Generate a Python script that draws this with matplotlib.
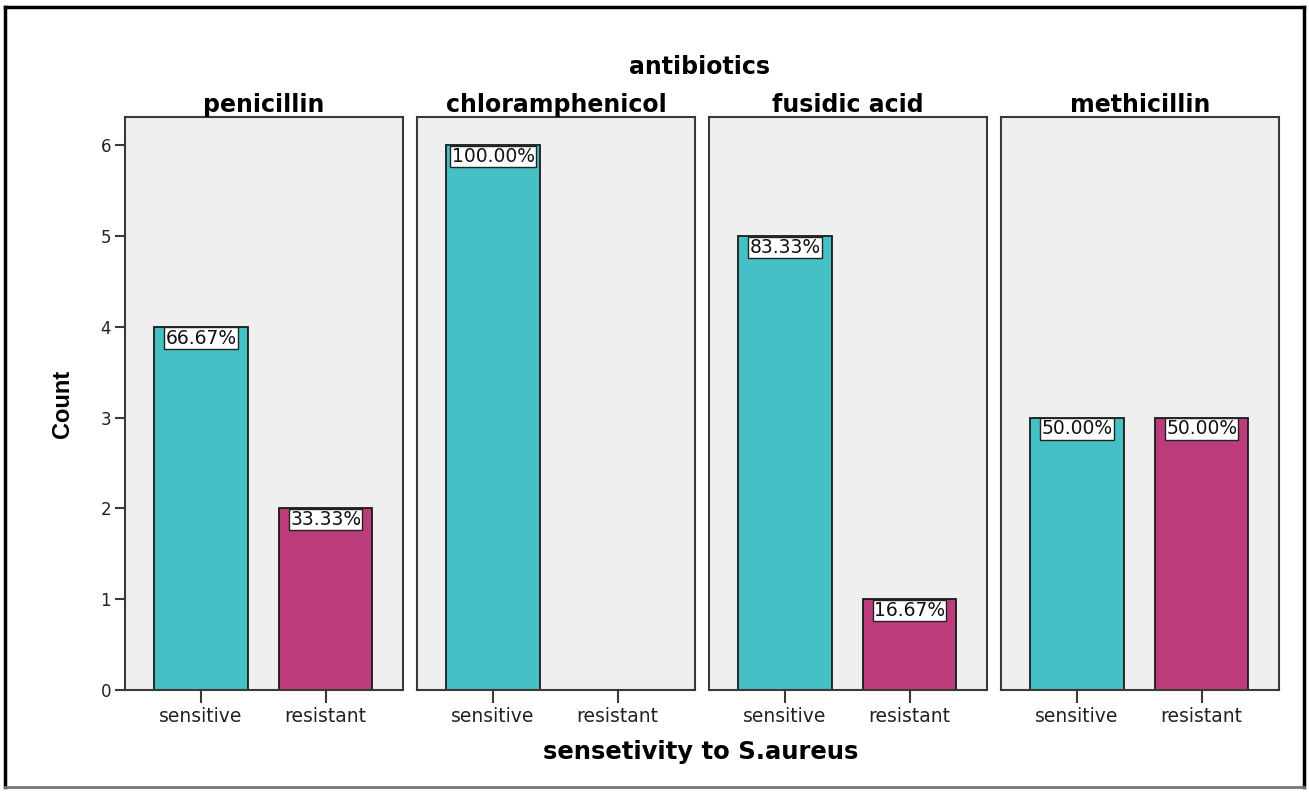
import matplotlib
matplotlib.use("Agg")
import matplotlib.pyplot as plt
from matplotlib.lines import Line2D

antibiotics = ["penicillin", "chloramphenicol", "fusidic acid", "methicillin"]
categories = ["sensitive", "resistant"]
sensitive_counts = [4, 6, 5, 3]
resistant_counts = [2, 0, 1, 3]
y_ticks = [0, 1, 2, 3, 4, 5, 6]

teal = "#45C0C4"
magenta = "#BC3C7B"
panel_bg = "#EFEFEF"
frame_col = "#3A3A3A"

plt.rcParams["font.family"] = ["DejaVu Sans"]

W, H = 1309, 792
fig = plt.figure(figsize=(W / 100, H / 100), dpi=100)

left0, step, width = 125, 292, 278
top_px, bottom_px = 117, 690

axes = []
for i, name in enumerate(antibiotics):
    x0 = left0 + i * step
    ax = fig.add_axes([x0 / W, 1 - bottom_px / H, width / W, (bottom_px - top_px) / H])
    ax.set_facecolor(panel_bg)
    counts = [sensitive_counts[i], resistant_counts[i]]
    total = sum(counts)
    for j, (c, col) in enumerate(zip(counts, [teal, magenta])):
        if c == 0:
            continue
        ax.bar(j, c, width=0.75, color=col, edgecolor="#1a1a1a", linewidth=1.3, zorder=2)
        ax.text(j, c - 0.02, f"{c / total * 100:.2f}%", ha="center", va="top",
                fontsize=13.5, color="#111111", zorder=4,
                bbox=dict(boxstyle="square,pad=0.06", facecolor="white",
                          edgecolor="#222222", linewidth=1.0))
    ax.set_xlim(-0.61, 1.62)
    ax.set_ylim(0, 6.31)
    ax.set_xticks([0, 1])
    ax.set_xticklabels(categories, fontsize=13.5, color="#222222")
    ax.tick_params(axis="x", direction="out", length=9, width=1.5, color=frame_col, pad=3)
    for sp in ax.spines.values():
        sp.set_color(frame_col)
        sp.set_linewidth(1.5)
    ax.set_title(name, fontsize=17, fontweight="bold", pad=3)
    if i == 0:
        ax.set_yticks(y_ticks)
        ax.tick_params(axis="y", direction="out", length=7, width=1.5, color=frame_col,
                       labelsize=12, pad=3, labelcolor="#222222")
        ax.set_ylabel("Count", fontsize=17, fontweight="bold",
                      family=["Liberation Sans Narrow", "Liberation Sans"], labelpad=19)
    else:
        ax.set_yticks([])
    axes.append(ax)

fig.text(700 / W, 1 - 67 / H, "antibiotics", ha="center", va="center",
         fontsize=17, fontweight="bold")
fig.text(701 / W, 1 - 752 / H, "sensetivity to S.aureus", ha="center", va="center",
         fontsize=17.5, fontweight="bold")

# outer frame around the whole chart
def fline(xs, ys, color, lw):
    fig.add_artist(Line2D([x / W for x in xs], [1 - y / H for y in ys],
                          color=color, linewidth=lw, transform=fig.transFigure))

fline([5, 1304], [7, 7], "black", 2.5)
fline([5, 5], [7, 787], "black", 2.5)
fline([1304, 1304], [7, 787], "black", 2.5)
fline([5, 1304], [787, 787], "#777777", 2.0)

fig.savefig("out.png", dpi=100, facecolor="white")
